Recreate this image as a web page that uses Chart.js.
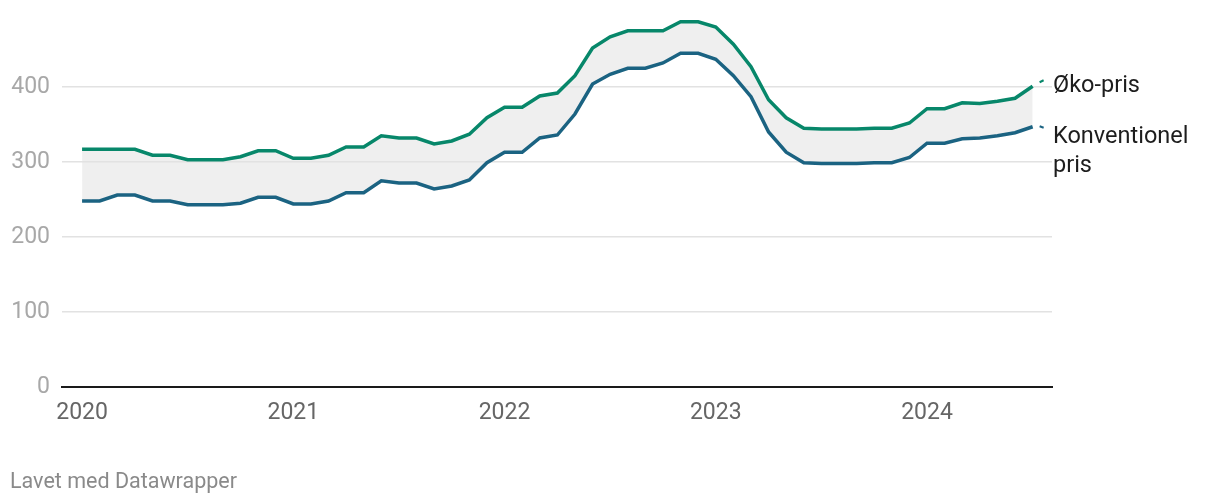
<!DOCTYPE html>
<html lang="da">
<head>
    <meta charset="UTF-8">
    <title>Øko-pris vs. konventionel pris</title>
    <style>
        body {
            margin: 0;
            background: #ffffff;
            font-family: Roboto, 'Noto Sans', Arial, sans-serif;
        }
        .wrap {
            position: relative;
            width: 1220px;
            height: 504px;
        }
        .footer {
            position: absolute;
            left: 10px;
            top: 468px;
            font-size: 21.5px;
            color: #8a8a8a;
        }
    </style>
</head>
<body>
    <div class="wrap">
        <canvas id="chart" width="1220" height="504"></canvas>
        <div class="footer">Lavet med Datawrapper</div>
    </div>

    <script src="https://cdn.jsdelivr.net/npm/chart.js"></script>
    <script>
        // monthly values, jan 2020 - jul 2024
        const yearLabels = ['2020', '2021', '2022', '2023', '2024'];
        const yTicks = [0, 100, 200, 300, 400];

        const okoPris = [
            317, 317, 317, 317, 309, 309, 303, 303, 303, 307, 315, 315,
            305, 305, 309, 320, 320, 335, 332, 332, 324, 328, 337, 359,
            373, 373, 388, 392, 415, 452, 467, 475, 475, 475, 487, 487,
            480, 457, 427, 383, 359, 345, 344, 344, 344, 345, 345, 352,
            371, 371, 379, 378, 381, 385, 401
        ];
        const konvPris = [
            248, 248, 256, 256, 248, 248, 243, 243, 243, 245, 253, 253,
            244, 244, 248, 259, 259, 275, 272, 272, 264, 268, 276, 299,
            313, 313, 332, 336, 364, 404, 417, 425, 425, 432, 445, 445,
            437, 415, 387, 340, 313, 299, 298, 298, 298, 299, 299, 306,
            325, 325, 331, 332, 335, 339, 347
        ];

        const green = '#07876a';
        const blue = '#1b6382';

        // labels at the end of each line, with a short dash as connector
        const endLabels = {
            id: 'endLabels',
            afterDatasetsDraw(chart) {
                const ctx = chart.ctx;
                const xs = chart.scales.x, ys = chart.scales.y;
                const last = okoPris.length - 1;
                const items = [
                    { v: okoPris[last], color: green, lines: ['Øko-pris'], ty: 86, dy: -2 },
                    { v: konvPris[last], color: blue, lines: ['Konventionel', 'pris'], ty: 137, dy: 1.5 }
                ];
                ctx.save();
                items.forEach(it => {
                    const px = xs.getPixelForValue(last);
                    const py = ys.getPixelForValue(it.v);
                    ctx.strokeStyle = it.color;
                    ctx.lineWidth = 2;
                    ctx.beginPath();
                    ctx.moveTo(px + 7, py - 2 + it.dy);
                    ctx.lineTo(px + 11, py - 2 + it.dy * 2);
                    ctx.stroke();
                    ctx.fillStyle = '#1d1d1d';
                    ctx.font = '23.5px Roboto';
                    ctx.textBaseline = 'middle';
                    ctx.textAlign = 'left';
                    it.lines.forEach((t, k) => ctx.fillText(t, chart.chartArea.right + 1, it.ty + k * 29));
                });
                ctx.restore();
            }
        };

        const ctx = document.getElementById('chart').getContext('2d');
        new Chart(ctx, {
            type: 'line',
            data: {
                datasets: [
                    {
                        label: 'Øko-pris',
                        data: okoPris.map((v, i) => ({ x: i, y: v })),
                        borderColor: green,
                        borderWidth: 3.5,
                        pointRadius: 0,
                        tension: 0,
                        fill: '+1',
                        backgroundColor: 'rgba(226,226,226,0.55)'
                    },
                    {
                        label: 'Konventionel pris',
                        data: konvPris.map((v, i) => ({ x: i, y: v })),
                        borderColor: blue,
                        borderWidth: 3.5,
                        pointRadius: 0,
                        tension: 0,
                        fill: false
                    }
                ]
            },
            options: {
                responsive: false,
                animation: false,
                layout: { padding: { left: 0, right: 168, top: 0, bottom: 0 } },
                plugins: {
                    legend: { display: false },
                    tooltip: { enabled: false },
                    filler: { drawTime: 'beforeDatasetsDraw' }
                },
                scales: {
                    x: {
                        type: 'linear',
                        min: -1.14,
                        max: 55.1,
                        afterBuildTicks: scale => {
                            scale.ticks = yearLabels.map((_, k) => ({ value: k * 12 }));
                        },
                        afterFit: scale => { scale.height = 117; },
                        ticks: {
                            callback: (v) => yearLabels[v / 12],
                            color: '#666',
                            font: { family: 'Roboto', size: 23 },
                            padding: 12,
                            maxRotation: 0,
                            autoSkip: false
                        },
                        grid: { display: false, drawTicks: false },
                        border: { display: true, color: '#1a1a1a', width: 2 }
                    },
                    y: {
                        min: 0,
                        max: 500,
                        afterBuildTicks: scale => {
                            scale.ticks = yTicks.map(v => ({ value: v }));
                        },
                        afterFit: scale => {
                            scale.width = 62;
                            scale.paddingTop = 12;
                            scale.paddingBottom = 0;
                        },
                        ticks: {
                            color: '#a8a8a8',
                            font: { family: 'Roboto', size: 23 },
                            padding: 12
                        },
                        grid: {
                            drawTicks: false,
                            color: c => c.tick.value === 0 ? 'rgba(0,0,0,0)' : '#e2e2e2',
                            lineWidth: 1.5
                        },
                        border: { display: false }
                    }
                }
            },
            plugins: [endLabels]
        });
    </script>
</body>
</html>
